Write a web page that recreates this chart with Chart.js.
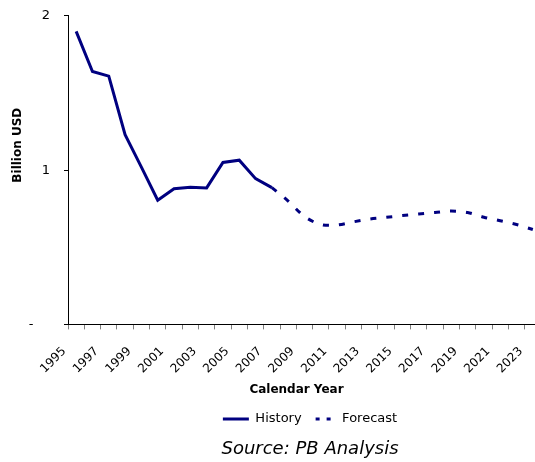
<!DOCTYPE html>
<html>
<head>
<meta charset="utf-8">
<script src="https://cdn.jsdelivr.net/npm/chart.js@4.4.0/dist/chart.umd.min.js"></script>
<style>
    body { margin: 0; background: #fff; overflow: hidden; }
    #wrap { width: 620px; height: 462px; }
</style>
</head>
<body>
<div id="wrap"><canvas id="chart" width="620" height="462"></canvas></div>
<script>
const years = ["1995", "1996", "1997", "1998", "1999", "2000", "2001", "2002", "2003", "2004",
               "2005", "2006", "2007", "2008", "2009", "2010", "2011", "2012", "2013", "2014",
               "2015", "2016", "2017", "2018", "2019", "2020", "2021", "2022", "2023"];
// billion USD, history up to 2007 then forecast
const historyValues = [1.90, 1.64, 1.61, 1.23, 1.02, 0.805, 0.88, 0.89, 0.885, 1.05,
                       1.065, 0.945, 0.887, null, null, null, null, null, null, null,
                       null, null, null, null, null, null, null, null, null];
const forecastValues = [null, null, null, null, null, null, null, null, null, null,
                        null, null, 0.887, 0.80, 0.70, 0.648, 0.645, 0.665, 0.683, 0.694,
                        0.706, 0.716, 0.726, 0.735, 0.726, 0.695, 0.672, 0.648, 0.615];
const seriesNames = ["History", "Forecast"];
const yTitle = "Billion USD";
const xTitle = "Calendar Year";
const sourceText = "Source: PB Analysis";

const navy = "#000080";
const fontName = '"DejaVu Sans", Verdana, sans-serif';
Chart.defaults.color = "#000";
Chart.defaults.font.family = fontName;

// axis titles are a little off-centre in the original, so draw them by hand
const axisTitlePlugin = {
    id: "axisTitles",
    afterDraw(chart) {
        const ctx = chart.ctx;
        const area = chart.chartArea;
        ctx.save();
        ctx.font = "bold 12px " + fontName;
        ctx.fillStyle = "#000";
        ctx.textAlign = "center";
        ctx.textBaseline = "middle";
        ctx.fillText(xTitle, (area.left + area.right) / 2 - 8, area.bottom + 65);
        ctx.translate(18, (area.top + area.bottom) / 2 - 25);
        ctx.rotate(-Math.PI / 2);
        ctx.fillText(yTitle, 0, 0);
        ctx.restore();
    }
};

new Chart(document.getElementById("chart"), {
    type: "line",
    data: {
        labels: years,
        datasets: [
            {
                label: seriesNames[0],
                data: historyValues,
                borderColor: navy,
                backgroundColor: navy,
                borderWidth: 3,
                pointRadius: 0,
                tension: 0,
                spanGaps: false
            },
            {
                label: seriesNames[1],
                data: forecastValues,
                borderColor: navy,
                backgroundColor: navy,
                borderWidth: 3,
                borderDash: [6, 10],
                pointRadius: 0,
                tension: 0.33,
                spanGaps: false
            }
        ]
    },
    options: {
        responsive: false,
        animation: false,
        layout: { padding: 0 },
        scales: {
            x: {
                offset: true,
                afterFit: (s) => { s.height = 80; },
                grid: { offset: true, drawOnChartArea: false, tickLength: 5, color: "#808080" },
                border: { color: "#000", width: 1 },
                ticks: {
                    autoSkip: false,
                    minRotation: 45,
                    maxRotation: 45,
                    padding: 15,
                    labelOffset: -12,
                    font: { size: 12 },
                    callback: (v, i) => (i % 2 === 0 ? years[i] : "")
                }
            },
            y: {
                min: 0,
                max: 2,
                afterFit: (s) => { s.width = 68; },
                grid: { drawOnChartArea: false, tickLength: 4, color: "#000" },
                border: { color: "#000", width: 1 },
                ticks: {
                    stepSize: 1,
                    padding: 14,
                    // small lineHeight keeps the top padding of the axis tight
                    font: { size: 13, lineHeight: 0.3 },
                    callback: (v) => (v === 0 ? "-    " : v)
                }
            },
            // empty strip on the right: the plot runs past the picture edge
            yPad: {
                position: "right",
                afterFit: (s) => { s.width = 79; },
                grid: { display: false },
                border: { display: false },
                ticks: { display: false }
            }
        },
        plugins: {
            legend: {
                position: "bottom",
                labels: {
                    usePointStyle: true,
                    pointStyle: "line",
                    pointStyleWidth: 26,
                    padding: 8,
                    font: { size: 13 },
                    generateLabels: (chart) => {
                        const items = Chart.defaults.plugins.legend.labels.generateLabels(chart);
                        items.forEach((item) => {
                            item.strokeStyle = navy;
                            item.lineWidth = 3;
                        });
                        items[1].lineDash = [4, 7];
                        items[1].lineDashOffset = 5;
                        return items;
                    }
                }
            },
            subtitle: {
                display: true,
                position: "bottom",
                text: sourceText,
                font: { size: 18, style: "italic", weight: "normal" },
                padding: { top: 3, bottom: 2 }
            },
            tooltip: { enabled: false }
        }
    },
    plugins: [axisTitlePlugin]
});
</script>
</body>
</html>
